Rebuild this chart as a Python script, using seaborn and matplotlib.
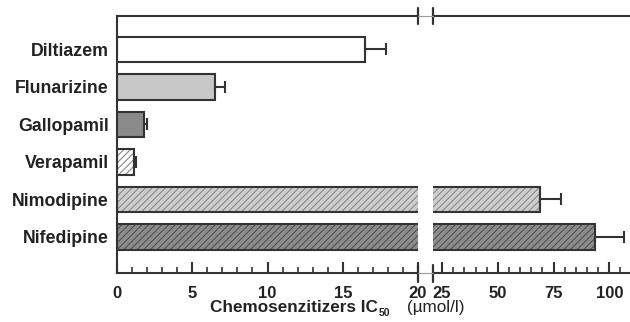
import matplotlib
matplotlib.use("Agg")
import matplotlib.pyplot as plt
import seaborn as sns
import pandas as pd
import numpy as np
from matplotlib.lines import Line2D
from matplotlib.patches import Rectangle
from matplotlib.ticker import MultipleLocator

drugs = ["Diltiazem", "Flunarizine", "Gallopamil", "Verapamil", "Nimodipine", "Nifedipine"]
ic50 = [16.5, 6.5, 1.8, 1.1, 68.8, 93.6]
sem = [1.4, 0.7, 0.2, 0.15, 9.6, 13.0]
fills = ["#ffffff", "#c8c8c8", "#8a8a8a", "#ffffff", "#cdcdcd", "#8e8e8e"]
hatches = ["", "", "", "/////", "/////", "/////"]
hatch_colors = ["", "", "", "#8a8a8a", "#8a8a8a", "#505050"]
left_ticks = [0, 5, 10, 15, 20]
right_ticks = [25, 50, 75, 100]

sns.set_style("ticks")
plt.rcParams["font.family"] = ["Liberation Sans", "DejaVu Sans"]
plt.rcParams["hatch.linewidth"] = 0.8

df = pd.DataFrame({"drug": drugs, "ic50": ic50})
W, H = 630, 322
fig = plt.figure(figsize=(W / 100, H / 100), dpi=100)
y0, y1 = 1 - 273.3 / H, 1 - 16 / H
axL = fig.add_axes([117 / W, y0, (418 - 117) / W, y1 - y0])
axR = fig.add_axes([432.7 / W, y0, (W - 432.7) / W, y1 - y0])

edge = "#333333"
txt = "#222222"
for ax in (axL, axR):
    sns.barplot(data=df, x="ic50", y="drug", hue="drug", palette=fills, order=drugs,
                hue_order=drugs, legend=False, width=0.68, ax=ax,
                edgecolor=edge, linewidth=1.5, orient="h")
    for p, h, hc in zip(list(ax.patches), hatches, hatch_colors):
        if h:
            p.set_hatch(h)
            p.set_edgecolor(hc)
            p.set_linewidth(0)
            ax.add_patch(Rectangle(p.get_xy(), p.get_width(), p.get_height(), fill=False,
                                   edgecolor=edge, linewidth=1.5, zorder=p.get_zorder() + 0.1))
    ax.errorbar(ic50, np.arange(len(drugs)), xerr=[np.zeros(len(drugs)), sem],
                fmt="none", ecolor=edge, elinewidth=1.5, capsize=4.3, capthick=1.5, zorder=5)
    ax.set_ylim(5.97, -0.89)
    ax.set_xlabel("")
    ax.set_ylabel("")
    for s in ax.spines.values():
        s.set_linewidth(1.5)
        s.set_color(edge)
    ax.tick_params(axis="x", which="both", direction="in", colors=edge, width=1.5,
                   labelsize=12, pad=9)
    ax.tick_params(axis="x", which="major", length=8)
    ax.tick_params(axis="x", which="minor", length=4, width=1.2)

axL.set_xlim(0, 20)
axL.xaxis.set_minor_locator(MultipleLocator(1))
axL.set_xticks(left_ticks)
axL.set_xticklabels([str(t) for t in left_ticks], fontweight="bold", color=txt)
axL.spines["right"].set_visible(False)
axL.tick_params(axis="y", length=0, pad=6)
for lab in axL.get_yticklabels():
    lab.set_fontweight("bold")
    lab.set_fontsize(12.8)
    lab.set_color(txt)

axR.set_xlim(20.8, 109.3)
axR.set_xticks(right_ticks)
axR.xaxis.set_minor_locator(MultipleLocator(5))
axR.set_xticklabels([str(t) for t in right_ticks], fontweight="bold", color=txt)
axR.spines["left"].set_visible(False)
axR.spines["right"].set_visible(False)
axR.set_yticks([])

# break marks
for ax, xa in ((axL, 1.0), (axR, 0.0)):
    for ya in (0.0, 1.0):
        ax.plot([xa, xa], [ya - 0.033, ya + 0.033], transform=ax.transAxes,
                color=edge, lw=1.6, clip_on=False, zorder=10)
for yy in (y0, y1):
    fig.add_artist(Line2D([418 / W, 432.7 / W], [yy, yy], color="#999999", lw=0.8))

# x label
fig.canvas.draw()
r = fig.canvas.get_renderer()
t1 = fig.text(210 / W, 1 - 311.7 / H, "Chemosenzitizers IC", fontsize=12.3,
              fontweight="bold", color=txt, va="baseline", ha="left")
bb = t1.get_window_extent(r)
t2 = fig.text((bb.x1 + 1) / W, 1 - 316 / H, "50", fontsize=7.5, fontweight="bold",
              color=txt, va="baseline", ha="left")
fig.text(407 / W, 1 - 311.7 / H, "(\u00b5mol/l)", fontsize=12.3,
         color=txt, va="baseline", ha="left")

fig.savefig("out.png", dpi=100)
